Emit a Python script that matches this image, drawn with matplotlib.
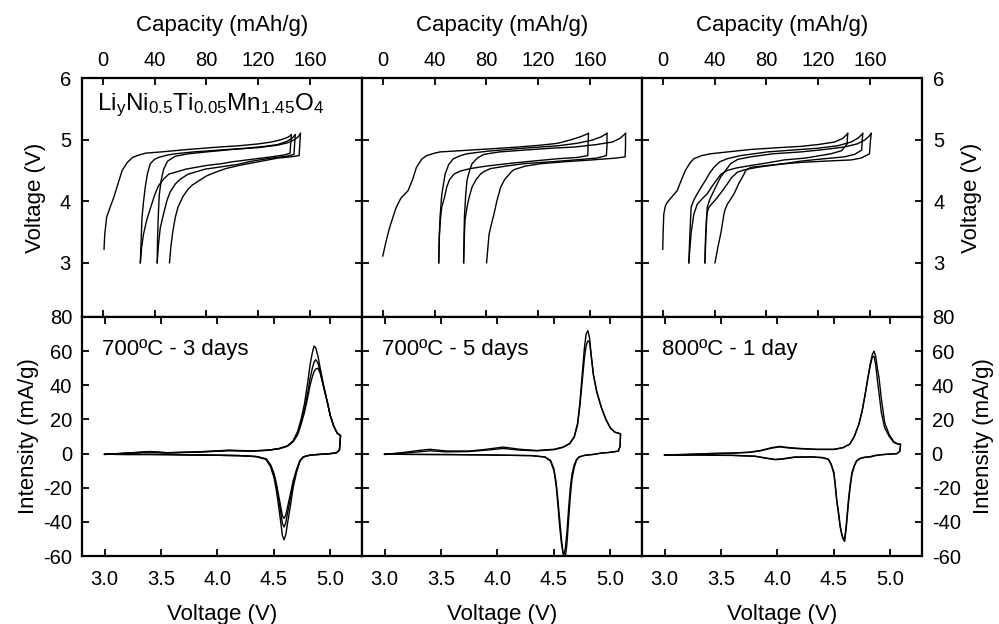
import matplotlib
matplotlib.use("Agg")
import matplotlib.pyplot as plt

plt.rcParams['font.family'] = ['Liberation Sans', 'DejaVu Sans']
plt.rcParams['axes.unicode_minus'] = False

# ---- galvanostatic cycles (capacity in mAh/g, voltage in V) ----
# 700ºC - 3 days
a_chg_cap = [[1, 1.5, 3, 6, 8.5, 12, 15, 19, 23, 28, 33, 45, 66, 90, 105, 120, 130, 138, 143, 145.5],
             [29, 29.8, 30.3, 31.5, 32.8, 34.5, 36.7, 40, 43, 50, 56, 70, 90, 110, 125, 135, 142, 146, 148.5],
             [42, 42.3, 42.8, 43.6, 45, 47, 50, 56, 66, 80, 100, 120, 135, 143, 148, 151, 152.5]]
a_chg_v = [[3.22, 3.45, 3.74, 3.92, 4.06, 4.3, 4.5, 4.63, 4.71, 4.75, 4.78, 4.8, 4.84, 4.88, 4.9, 4.93, 4.96, 5.0, 5.04, 5.08],
           [3.0, 3.47, 3.74, 4.0, 4.23, 4.45, 4.61, 4.68, 4.71, 4.75, 4.77, 4.8, 4.83, 4.86, 4.89, 4.92, 4.97, 5.02, 5.08],
           [3.0, 3.4, 3.74, 4.1, 4.33, 4.52, 4.65, 4.73, 4.77, 4.8, 4.84, 4.87, 4.91, 4.95, 5.0, 5.05, 5.1]]
a_dis_cap = [[145.5, 145, 144.5, 140, 130, 115, 100, 92, 80, 64, 56, 51, 47, 43, 40, 37, 34, 31.5, 30, 29],
             [148.5, 148, 147.5, 142, 130, 115, 104.6, 92, 79, 66, 60, 56, 52, 49.5, 47, 44.4, 43, 42],
             [152.5, 152, 151.5, 145, 135, 120, 105, 95, 87, 80, 74, 69, 66, 62, 58, 56, 54, 52.5, 51.5]]
a_dis_v = [[5.08, 4.95, 4.78, 4.75, 4.72, 4.68, 4.64, 4.61, 4.58, 4.52, 4.47, 4.44, 4.36, 4.25, 4.1, 3.9, 3.7, 3.47, 3.25, 3.0],
           [5.08, 4.92, 4.76, 4.73, 4.7, 4.65, 4.6, 4.56, 4.52, 4.44, 4.36, 4.28, 4.15, 4.01, 3.8, 3.57, 3.3, 3.0],
           [5.1, 4.92, 4.74, 4.72, 4.7, 4.64, 4.58, 4.53, 4.47, 4.41, 4.33, 4.26, 4.2, 4.08, 3.9, 3.74, 3.5, 3.25, 3.0]]

# 700ºC - 5 days
b_chg_cap = [[0, 1, 2.6, 5, 8, 10.4, 14, 19.5, 23, 26, 30, 33.8, 40, 44.2, 60, 83, 105, 122, 135, 145.7, 153, 158.7],
             [43.2, 43.6, 44.2, 45.5, 48.1, 51, 54.6, 60, 65, 80, 96.3, 115, 135.3, 150, 161.3, 168, 173],
             [62.4, 62.7, 63, 64, 65, 67, 68.9, 73, 78, 90, 109.3, 130, 148.3, 165, 177, 183, 187.3]]
b_chg_v = [[3.11, 3.2, 3.35, 3.55, 3.75, 3.9, 4.05, 4.17, 4.35, 4.55, 4.68, 4.74, 4.78, 4.8, 4.82, 4.85, 4.88, 4.91, 4.94, 5.0, 5.05, 5.1],
           [3.0, 3.4, 3.74, 4.1, 4.44, 4.6, 4.69, 4.74, 4.77, 4.81, 4.84, 4.87, 4.9, 4.94, 4.99, 5.04, 5.1],
           [3.0, 3.4, 3.74, 4.1, 4.34, 4.5, 4.61, 4.7, 4.76, 4.8, 4.83, 4.86, 4.88, 4.92, 4.96, 5.02, 5.1]]
b_dis_cap = [[158.7, 158.4, 158.2, 150, 135.3, 115, 96.3, 80, 67.6, 60, 55, 51.5, 49.4, 47.5, 45.5, 44.5, 43.7, 43.2],
             [173, 173, 172.5, 165, 148.3, 130, 109.3, 95, 83.2, 78, 75.4, 72, 68.9, 66.5, 65, 63.5, 63, 62.4],
             [187.3, 187.3, 187, 180, 161.3, 140, 122.3, 110, 101, 98.9, 94, 91, 88, 85.8, 83.5, 82, 80.1]]
b_dis_v = [[5.1, 4.9, 4.74, 4.71, 4.69, 4.65, 4.61, 4.57, 4.53, 4.49, 4.44, 4.35, 4.23, 4.05, 3.9, 3.7, 3.46, 3.0],
           [5.1, 4.9, 4.74, 4.7, 4.67, 4.64, 4.61, 4.57, 4.53, 4.48, 4.44, 4.35, 4.23, 4.05, 3.9, 3.7, 3.46, 3.0],
           [5.1, 4.9, 4.72, 4.7, 4.67, 4.64, 4.61, 4.57, 4.51, 4.47, 4.35, 4.23, 4.0, 3.79, 3.6, 3.46, 3.0]]

# 800ºC - 1 day
c_chg_cap = [[0, 0.3, 0.8, 2, 3.4, 7, 11.1, 14.5, 17.5, 21, 24, 30, 36.9, 50, 67.9, 90, 106.6, 120, 132.4, 139, 142.7],
             [20.1, 21, 21.9, 24, 26.6, 30, 33, 36, 39.5, 44, 49.8, 60, 80.8, 100, 119.5, 135, 145.3, 151, 154.3],
             [32.5, 33.4, 34.3, 36.5, 39.5, 42, 44.6, 48.5, 52.4, 58, 67.9, 85, 106.6, 125, 140.1, 150, 155.6, 159, 160.8]]
c_chg_v = [[3.22, 3.5, 3.79, 3.92, 3.98, 4.07, 4.17, 4.35, 4.5, 4.62, 4.69, 4.74, 4.77, 4.8, 4.84, 4.87, 4.89, 4.92, 4.96, 5.02, 5.1],
           [3.0, 3.5, 3.9, 4.02, 4.12, 4.24, 4.34, 4.45, 4.55, 4.64, 4.69, 4.74, 4.8, 4.83, 4.86, 4.9, 4.96, 5.03, 5.1],
           [3.0, 3.5, 3.9, 4.04, 4.17, 4.28, 4.39, 4.5, 4.61, 4.68, 4.72, 4.77, 4.8, 4.84, 4.88, 4.93, 4.99, 5.05, 5.1]]
c_dis_cap = [[142.7, 142.2, 138, 129.8, 110, 93.7, 80, 67.9, 57, 49.8, 45, 42.1, 38, 34.3, 30, 26.6, 24, 22, 21, 20.1],
             [154.3, 153.8, 153.5, 148, 140.1, 120, 106.6, 90, 73, 63, 57.5, 53, 49.8, 46, 42.1, 38, 35.6, 34.3, 33.8, 33, 32.5],
             [160.8, 160, 159.5, 153, 145.3, 125, 106.6, 85, 67.9, 64, 62.7, 58.5, 55, 52, 49.8, 48, 47.2, 45, 42.5, 40.3]]
c_dis_v = [[5.1, 4.93, 4.82, 4.77, 4.7, 4.67, 4.62, 4.58, 4.54, 4.5, 4.44, 4.36, 4.24, 4.12, 4.03, 3.95, 3.79, 3.5, 3.25, 3.0],
           [5.1, 4.96, 4.83, 4.76, 4.72, 4.68, 4.65, 4.6, 4.55, 4.51, 4.47, 4.38, 4.28, 4.17, 4.06, 3.96, 3.9, 3.82, 3.74, 3.4, 3.0],
           [5.1, 4.92, 4.77, 4.7, 4.67, 4.65, 4.63, 4.59, 4.55, 4.5, 4.44, 4.28, 4.12, 4.02, 3.95, 3.86, 3.79, 3.5, 3.25, 3.0]]

# ---- cyclic voltammetry (voltage in V, intensity in mA/g) ----
a_ox_v = [3.00, 3.20, 3.40, 3.55, 3.75, 3.95, 4.10, 4.30, 4.45, 4.55, 4.62, 4.67, 4.71, 4.74, 4.77,
          4.80, 4.82, 4.84, 4.855, 4.87, 4.89, 4.91, 4.94, 4.97, 5.00, 5.03, 5.06, 5.09]
a_ox_i = [[-0.5, 0.3, 1.2, 0.5, 0.8, 1.4, 2.0, 1.6, 2.0, 3.0, 4.5, 7.5, 13, 20, 29, 42, 52, 59, 63, 62, 57, 50, 40, 31, 22, 16, 12, 10.5],
          [-0.5, 0.3, 1.0, 0.5, 0.8, 1.3, 1.8, 1.5, 2.0, 3.0, 4.5, 7, 12, 18, 26, 36, 44, 50, 53.5, 55, 53, 48, 39, 31, 22, 16, 12, 10.5],
          [-0.5, 0.2, 0.9, 0.4, 0.7, 1.2, 1.7, 1.4, 1.9, 2.9, 4.3, 7, 11, 17, 24, 33, 40, 45, 48, 49.5, 50, 47, 39, 31, 22, 16, 12, 10.5]]
a_red_v = [5.09, 5.08, 5.05, 5.00, 4.95, 4.90, 4.85, 4.80, 4.76, 4.73, 4.70, 4.67, 4.645, 4.62, 4.605, 4.59,
           4.575, 4.56, 4.54, 4.52, 4.50, 4.47, 4.43, 4.35, 4.2, 4.0, 3.8, 3.6, 3.4, 3.2, 3.0]
a_red_i = [[10.5, 2, 0.3, 0, -0.3, -0.5, -0.7, -1.2, -2.0, -4.5, -11, -20, -31, -41, -47.5, -50.5, -48, -40, -30, -21, -14, -7.7, -3.5, -1.8, -1.2, -1.0, -0.8, -0.6, -0.5, -0.5, -0.4],
           [10.5, 2, 0.3, 0, -0.3, -0.5, -0.7, -1.2, -2.0, -4.2, -10, -17.5, -26.5, -35, -40.5, -43, -41, -34.5, -26, -18.5, -12.5, -7, -3.3, -1.8, -1.2, -1.0, -0.8, -0.6, -0.5, -0.5, -0.4],
           [10.5, 2, 0.3, 0, -0.3, -0.5, -0.7, -1.2, -2.0, -4.0, -9.5, -16, -24, -31.5, -36, -38, -36.5, -31, -24, -17, -11.5, -6.5, -3, -1.8, -1.2, -1.0, -0.8, -0.6, -0.5, -0.5, -0.4]]

b_ox_v = [3.00, 3.15, 3.30, 3.40, 3.55, 3.75, 3.90, 4.05, 4.20, 4.35, 4.50, 4.58, 4.64, 4.68, 4.71,
          4.73, 4.75, 4.77, 4.785, 4.80, 4.815, 4.83, 4.85, 4.88, 4.92, 4.96, 5.00, 5.04, 5.07, 5.09]
b_ox_i = [[-0.5, 0.5, 1.8, 2.5, 1.5, 1.5, 2.5, 3.8, 2.5, 1.8, 2.5, 3.8, 6, 10, 18, 30, 46, 62, 70, 72, 68, 58, 46, 36, 27, 20, 15, 12.5, 12, 11.5],
          [-0.5, 0.3, 1.0, 1.6, 1.0, 1.2, 2.0, 3.0, 2.0, 1.6, 2.3, 3.6, 5.8, 9.5, 17, 28, 42, 56, 63, 66, 65.5, 57, 46, 36, 27, 20, 15, 12.5, 12, 11.5]]
b_red_v = [5.09, 5.085, 5.07, 5.03, 4.98, 4.92, 4.85, 4.80, 4.76, 4.72, 4.70, 4.68, 4.66, 4.645, 4.63, 4.615,
           4.60, 4.59, 4.58, 4.565, 4.55, 4.535, 4.52, 4.50, 4.47, 4.42, 4.30, 4.10, 3.90, 3.60, 3.30, 3.00]
b_red_i = [[11.5, 4, 1.5, 1.0, 0.6, 0.3, -0.5, -0.8, -1.2, -2, -3.5, -6.5, -12, -20, -32, -46, -56, -59, -58, -52, -42, -30, -19, -10, -4.5, -2, -1.2, -1, -0.8, -0.6, -0.5, -0.4],
           [11.5, 4, 1.5, 1.0, 0.6, 0.3, -0.5, -0.8, -1.2, -2.2, -4, -8, -15, -25, -39, -53, -61, -62, -58, -49, -38, -27, -17, -9, -4, -2, -1.2, -1, -0.8, -0.6, -0.5, -0.4]]

c_ox_v = [3.00, 3.20, 3.40, 3.60, 3.75, 3.85, 3.95, 4.02, 4.10, 4.20, 4.35, 4.50, 4.58, 4.64, 4.68, 4.72,
          4.75, 4.78, 4.80, 4.82, 4.84, 4.855, 4.87, 4.885, 4.90, 4.92, 4.95, 4.99, 5.03, 5.07, 5.09]
c_ox_i = [[-0.8, -0.5, 0.0, 0.3, 0.8, 1.8, 3.5, 4.2, 3.5, 3.0, 2.5, 2.5, 3.5, 5.5, 10, 17, 25, 36, 44, 52, 58, 60, 57, 50, 44, 32, 18, 11, 7, 5.5, 5.5],
          [-0.8, -0.5, 0.0, 0.3, 0.7, 1.6, 3.2, 3.9, 3.3, 2.8, 2.4, 2.4, 3.4, 5.5, 10, 17, 25, 36, 44, 51, 56.5, 57, 52, 43, 35, 24, 15, 10, 6.5, 5.5, 5.5]]
c_red_v = [5.09, 5.085, 5.06, 5.00, 4.93, 4.87, 4.82, 4.77, 4.73, 4.70, 4.68, 4.66, 4.645, 4.63, 4.61, 4.595,
           4.58, 4.565, 4.555, 4.54, 4.525, 4.51, 4.50, 4.475, 4.45, 4.40, 4.30, 4.15, 4.05, 3.98, 3.90,
           3.80, 3.60, 3.30, 3.00]
c_red_i = [[5.5, 1.5, 0.0, -0.3, -0.6, -1.2, -2.0, -2.3, -3.0, -4.5, -7.5, -12, -19, -28, -43, -51.5, -50, -46, -43, -35,
            -28, -18, -12, -6.5, -3.4, -2.5, -2.0, -2.2, -3.2, -3.6, -2.8, -1.6, -1.1, -0.9, -0.8],
           [5.5, 1.5, 0.0, -0.3, -0.6, -1.0, -1.8, -2.1, -2.8, -4.2, -7, -11, -17.5, -26, -41, -50, -49.5, -46, -42, -34,
            -27, -17, -11, -6, -3.2, -2.3, -1.9, -2.0, -3.0, -3.4, -2.6, -1.5, -1.0, -0.8, -0.8]]

sample_labels = ['700ºC - 3 days', '700ºC - 5 days', '800ºC - 1 day']
formula = r'$\mathregular{Li_yNi_{0.5}Ti_{0.05}Mn_{1.45}O_4}$'

galv = [(a_chg_cap, a_chg_v, a_dis_cap, a_dis_v),
        (b_chg_cap, b_chg_v, b_dis_cap, b_dis_v),
        (c_chg_cap, c_chg_v, c_dis_cap, c_dis_v)]
cv = [(a_ox_v, a_ox_i, a_red_v, a_red_i),
      (b_ox_v, b_ox_i, b_red_v, b_red_i),
      (c_ox_v, c_ox_i, c_red_v, c_red_i)]

W, H = 999, 624
fig = plt.figure(figsize=(W / 100, H / 100), dpi=100)

x0, pw = 82, 280
top_y0, mid_y, bot_y1 = 78, 317, 556

lw = 1.0
tick_fs = 14.5
lab_fs = 16

def style(ax):
    for sp in ax.spines.values():
        sp.set_linewidth(1.6)
    ax.tick_params(direction='in', length=5, width=1.3, labelsize=tick_fs,
                   top=True, bottom=True, left=True, right=True)

for col in range(3):
    left = (x0 + col * pw) / W

    # galvanostatic panel
    ax = fig.add_axes([left, 1 - mid_y / H, pw / W, (mid_y - top_y0) / H])
    style(ax)
    chg_cap, chg_v, dis_cap, dis_v = galv[col]
    for k in range(len(chg_cap)):
        ax.plot(chg_cap[k], chg_v[k], color='black', lw=lw)
        ax.plot(dis_cap[k], dis_v[k], color='black', lw=lw)
    ax.set_xlim(-16, 200)
    ax.set_ylim(2.12, 6)
    ax.set_xticks([0, 40, 80, 120, 160])
    ax.set_yticks([3, 4, 5, 6])
    ax.tick_params(axis='x', labeltop=True, labelbottom=False, pad=6)
    ax.tick_params(axis='y', labelleft=(col == 0), labelright=(col == 2), pad=8)
    ax.xaxis.set_label_position('top')
    ax.set_xlabel('Capacity (mAh/g)', fontsize=lab_fs, labelpad=14)
    if col == 0:
        ax.set_ylabel('Voltage (V)', fontsize=lab_fs, labelpad=10)
        ax.text(0.054, 0.866, formula, transform=ax.transAxes, fontsize=17.5, va='baseline')
    if col == 2:
        ax.yaxis.set_label_position('right')
        ax.set_ylabel('Voltage (V)', fontsize=lab_fs, labelpad=12, rotation=90)

    # cyclic voltammetry panel
    ax2 = fig.add_axes([left, 1 - bot_y1 / H, pw / W, (bot_y1 - mid_y) / H])
    style(ax2)
    ox_v, ox_i, red_v, red_i = cv[col]
    for k in range(len(ox_i)):
        ax2.plot(ox_v + red_v, ox_i[k] + red_i[k], color='black', lw=lw)
    ax2.set_xlim(2.8, 5.28)
    ax2.set_ylim(-60, 80)
    ax2.set_xticks([3.0, 3.5, 4.0, 4.5, 5.0])
    ax2.set_xticklabels(['3.0', '3.5', '4.0', '4.5', '5.0'])
    ax2.set_yticks(range(-60, 81, 20))
    ax2.tick_params(axis='x', labeltop=False, labelbottom=True, pad=10)
    ax2.tick_params(axis='y', labelleft=(col == 0), labelright=(col == 2), pad=7)
    ax2.set_xlabel('Voltage (V)', fontsize=lab_fs, labelpad=11)
    ax2.text(0.072, 0.862, sample_labels[col], transform=ax2.transAxes,
             fontsize=lab_fs, va='center')
    if col == 0:
        ax2.set_ylabel('Intensity (mA/g)', fontsize=lab_fs, labelpad=3)
    if col == 2:
        ax2.yaxis.set_label_position('right')
        ax2.set_ylabel('Intensity (mA/g)', fontsize=lab_fs, labelpad=9, rotation=90)

fig.savefig('out.png', dpi=100)
